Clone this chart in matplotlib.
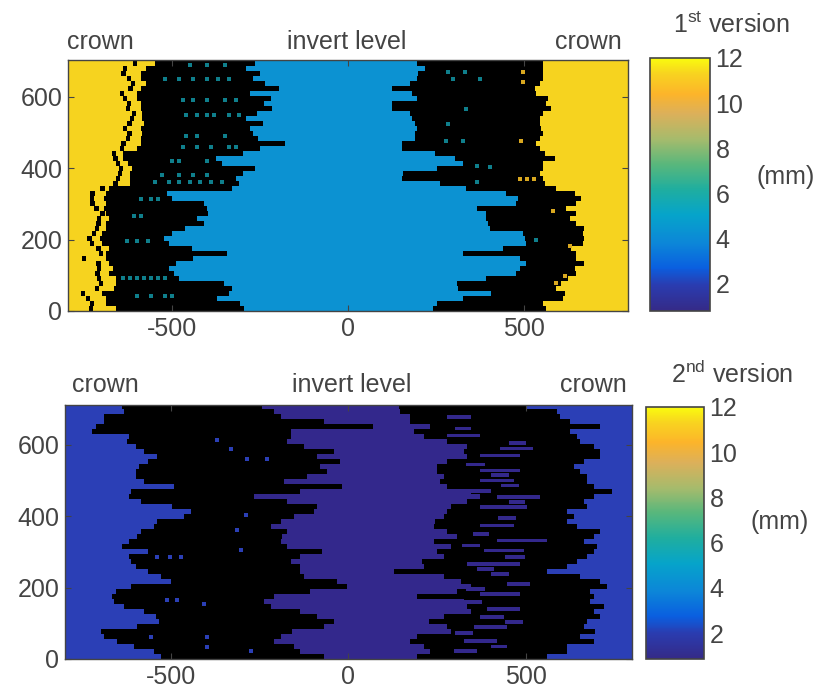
import numpy as np
import matplotlib
matplotlib.use("Agg")
import matplotlib.pyplot as plt
from matplotlib.cm import ScalarMappable
from matplotlib.colors import LinearSegmentedColormap, Normalize

W, H = 818, 694

# edge positions (mm along circumference) per 14 mm row, bottom row first
# 1st version
top_left_outer = [-738, -735, -745, -761, -720, -709, -715, -719, -715, -716, -757, -710, -716,
                  -735, -742, -730, -720, -716, -714, -705, -722, -733, -735, -733, -705, -668,
                  -660, -655, -652, -660, -668, -672, -650, -645, -632, -628, -640, -628, -620,
                  -615, -632, -630, -640, -650, -625, -618, -630, -645, -640, -612, -610]
top_left_solid = [-660, -690, -690, -700, -665, -660, -660, -680, -670, -680, -690, -690, -680,
                  -700, -705, -700, -690, -690, -680, -690, -695, -690, -695, -690, -680, -620,
                  -620, -620, -615, -625, -640, -640, -600, -590, -590, -585, -590, -580, -585,
                  -585, -590, -590, -600, -600, -590, -575, -590, -590, -575, -550, -540]
top_left_inner = [-297, -306, -373, -340, -330, -352, -480, -496, -510, -490, -440, -345, -445,
                  -510, -525, -500, -465, -410, -430, -398, -400, -410, -500, -515, -330, -310,
                  -320, -300, -265, -360, -375, -300, -250, -180, -255, -270, -280, -242, -290,
                  -260, -215, -240, -218, -280, -195, -235, -270, -250, -290, -265, -226]
top_right_inner = [242, 252, 328, 408, 314, 309, 394, 479, 489, 508, 489, 328, 441,
                   508, 503, 498, 403, 399, 394, 394, 366, 479, 484, 451, 337, 261,
                   153, 157, 252, 328, 304, 247, 153, 153, 190, 190, 195, 190, 181,
                   176, 124, 124, 195, 181, 124, 176, 195, 200, 219, 195, 190]
top_right_outer = [564, 555, 612, 617, 593, 607, 626, 650, 645, 673, 650, 650, 636,
                   669, 673, 669, 671, 650, 631, 650, 621, 650, 664, 645, 593, 560,
                   555, 546, 555, 555, 588, 560, 546, 536, 546, 555, 550, 546, 546,
                   555, 579, 564, 569, 536, 531, 546, 555, 555, 555, 555, 555]
# 2nd version
bot_left_outer = [-528, -547, -603, -650, -687, -697, -594, -533, -542, -575, -631, -659, -664,
                  -654, -612, -500, -528, -565, -598, -612, -617, -565, -636, -617, -594, -584,
                  -547, -537, -463, -444, -495, -584, -617, -612, -491, -575, -598, -598, -589,
                  -565, -537, -575, -598, -622, -617, -720, -711, -687, -687, -631, -636]
bot_left_inner = [-69, -135, -154, -210, -191, -158, -69, -41, -88, -135, -219, -238, -210,
                  -107, -4, -32, -125, -135, -135, -163, -135, -74, -172, -191, -186, -172,
                  -219, -191, -154, -97, -88, -172, -266, -135, -18, -182, -116, -60, -79,
                  -23, -88, -41, -125, -172, -163, -163, 70, -69, -191, -210, -243]
bot_right_inner = [193, 230, 212, 174, 193, 287, 277, 226, 268, 343, 333, 324, 193,
                   305, 343, 315, 268, 127, 212, 207, 268, 249, 287, 240, 305, 277,
                   240, 244, 268, 277, 287, 333, 371, 343, 277, 258, 268, 249, 249,
                   277, 333, 324, 333, 277, 212, 184, 230, 174, 174, 146, 141]
bot_right_outer = [558, 614, 614, 689, 652, 694, 661, 670, 708, 689, 717, 680, 689,
                   680, 726, 708, 652, 558, 614, 642, 670, 689, 698, 661, 689, 708,
                   642, 614, 633, 614, 670, 661, 689, 741, 689, 670, 670, 652, 633,
                   661, 708, 708, 689, 652, 642, 624, 708, 624, 595, 586, 502]

# small pockets inside the black band
top_teal_x = [-640, -620, -600, -580, -560, -540, -520, -600, -560, -520, -500, -630, -600, -570,
              -610, -590, -590, -560, -540, -550, -510, -480, -450, -420, -390, -360, -530, -480,
              -440, -400, -500, -480, -400, -470, -430, -390, -340, -320, -460, -430, -350, -460,
              -430, -400, -380, -340, -310, -470, -440, -400, -350, -320, -520, -480, -440, -400,
              -370, -340, -450, -400, -350, 285, 332, 300, 375, 337, 285, 280, 327, 366, 404, 366, 536]
top_teal_y = [93, 93, 93, 93, 93, 93, 93, 42, 42, 42, 42, 196, 196, 196,
              265, 265, 314, 314, 314, 360, 360, 360, 360, 360, 360, 360, 380, 380,
              380, 380, 420, 420, 420, 458, 458, 458, 458, 458, 490, 490, 490, 550,
              550, 550, 550, 550, 550, 590, 590, 590, 590, 590, 650, 650, 650, 650,
              650, 650, 690, 690, 690, 668, 668, 649, 649, 565, 523, 476, 476, 406, 404, 360, 200]
top_gold_x = [498, 498, 493, 583, 617, 593, 631, 490, 510, 530]
top_gold_y = [668, 640, 476, 280, 98, 79, 182, 369, 369, 369]

bot_speck_x = [-331, -285, -229, -289, -303, -537, -502, -472, -406, -397, -397, -556, -509, -481, -369, -275, -313]
bot_speck_y = [589, 561, 561, 402, 304, 285, 285, 285, 154, 33, 61, 61, 164, 164, 612, 23, 360]

pocket_y = [23, 51, 89, 117, 140, 182, 210, 266, 304, 332, 374, 425, 453, 500, 528, 570, 589, 626, 678,
            35, 72, 104, 160, 196, 238, 252, 285, 318, 350, 395, 440, 470, 486, 515, 545, 605, 645]
pocket_x0 = [296, 324, 352, 371, 390, 371, 446, 333, 380, 418, 371, 371, 418, 371, 371, 371, 427, 277, 277,
             400, 300, 440, 320, 330, 400, 360, 440, 320, 350, 420, 450, 340, 430, 400, 330, 450, 300]
pocket_x1 = [361, 418, 446, 436, 483, 483, 511, 483, 492, 558, 464, 502, 539, 464, 483, 483, 520, 371, 343,
             445, 350, 490, 375, 385, 450, 410, 495, 370, 395, 470, 495, 400, 480, 450, 385, 500, 345]

cbar_ticks = [2, 4, 6, 8, 10, 12]
x_ticks = [-500, 0, 500]
y_ticks = [0, 200, 400, 600]

plt.rcParams["font.family"] = ["Liberation Sans", "DejaVu Sans"]
plt.rcParams["mathtext.fontset"] = "custom"
plt.rcParams["mathtext.rm"] = "Liberation Sans"
plt.rcParams["font.size"] = 18
plt.rcParams["axes.unicode_minus"] = False

ink = "#444444"
parula = LinearSegmentedColormap.from_list("parula_like", [
    (0.00, "#352a87"), (0.10, "#2a3cb0"), (0.17, "#0a5fe0"), (0.27, "#0c87d8"),
    (0.38, "#06a4ca"), (0.48, "#1fae9f"), (0.58, "#58b77c"), (0.68, "#a6bb6c"),
    (0.78, "#dcb05a"), (0.86, "#fcb42a"), (0.94, "#f8d320"), (1.00, "#f9fb0e")])

fig = plt.figure(figsize=(W / 100, H / 100), dpi=100)


def px_axes(x0, y0, x1, y1):
    return fig.add_axes([x0 / W, 1 - y1 / H, (x1 - x0) / W, (y1 - y0) / H])


def px_text(x, y, s, **kw):
    fig.text(x / W, 1 - y / H, s, ha="center", va="center", color=ink, **kw)


def panel(rect, ylim, crown, invert, lo, li, ri, ro):
    ax = px_axes(*rect)
    rows = 7 + 14 * np.arange(len(lo))
    lo, li, ri, ro = map(np.array, (lo, li, ri, ro))
    ax.set_facecolor(crown)
    ax.barh(rows, ro - lo, left=lo, height=14, color="black", linewidth=0, antialiased=False)
    ax.barh(rows, ri - li, left=li, height=14, color=invert, linewidth=0, antialiased=False)
    ax.set_xlim(-797, 797)
    ax.set_ylim(0, ylim)
    ax.set_xticks(x_ticks)
    ax.set_yticks(y_ticks)
    ax.tick_params(direction="in", top=True, right=True, length=4, width=0.8, color=ink,
                   labelcolor=ink, pad=4)
    for s in ax.spines.values():
        s.set_color(ink)
        s.set_linewidth(1.0)
    return ax, rows


def cbar(rect, vmin):
    cax = px_axes(*rect)
    cb = fig.colorbar(ScalarMappable(Normalize(vmin, 12), parula), cax=cax)
    cb.set_ticks(cbar_ticks)
    cb.ax.tick_params(length=0, labelcolor=ink, pad=4)
    cb.outline.set_edgecolor(ink)
    cb.outline.set_linewidth(1.2)


# 1st version
ax1, rows1 = panel((68, 60, 628, 311), 703, "#f6d31f", "#0c92d2",
                   top_left_outer, top_left_inner, top_right_inner, top_right_outer)
lo = np.array(top_left_outer) + 12
ls = np.array(top_left_solid)
ax1.barh(rows1[ls > lo], (ls - lo)[ls > lo], left=lo[ls > lo], height=12, color="#f6d31f",
         linewidth=0, antialiased=False)
ax1.scatter(top_teal_x, top_teal_y, s=5, marker="s", color="#0f7f8c", linewidths=0)
ax1.scatter(top_gold_x, top_gold_y, s=6, marker="s", color="#d9a820", linewidths=0)
cbar((650, 58, 710, 311), 0.76)

# 2nd version
ax2, rows2 = panel((65, 405, 632, 659), 711, "#2b3fb6", "#33288c",
                   bot_left_outer, bot_left_inner, bot_right_inner, bot_right_outer)
ax2.barh(pocket_y, np.array(pocket_x1) - np.array(pocket_x0), left=pocket_x0, height=10,
         color="#33288c", linewidth=0, antialiased=False)
ax2.scatter(bot_speck_x, bot_speck_y, s=6, marker="s", color="#2b3fb6", linewidths=0)
cbar((646, 407, 704, 659), 0.86)

for x, y, s in [(100, 42, "crown"), (347, 42, "invert level"), (588, 42, "crown"),
                (105, 385, "crown"), (352, 385, "invert level"), (593, 385, "crown"),
                (786, 177, "(mm)"), (780, 522, "(mm)")]:
    px_text(x, y, s)
px_text(731, 25, r"1$^{\mathrm{st}}$ version")
px_text(732, 374, r"2$^{\mathrm{nd}}$ version")

fig.savefig("out.png", dpi=100)
